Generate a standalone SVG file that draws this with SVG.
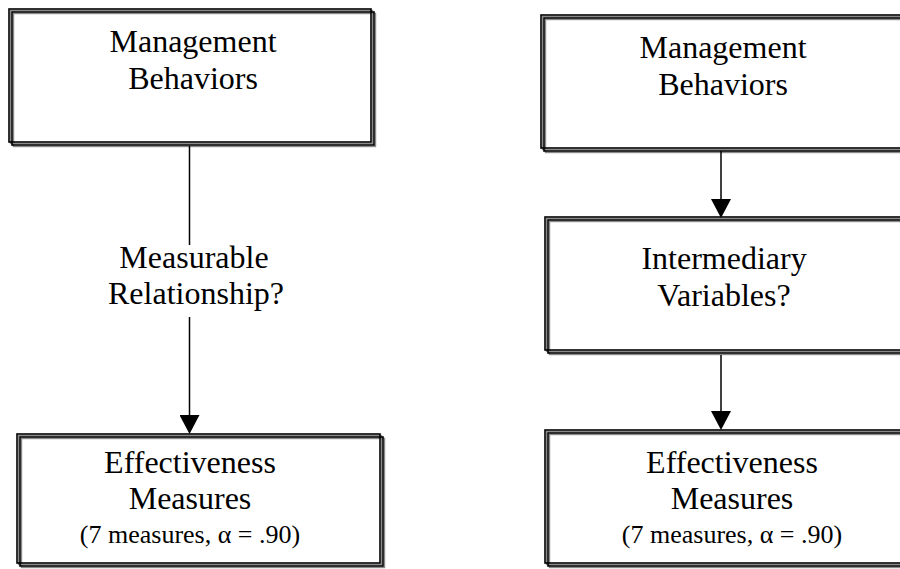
<svg xmlns="http://www.w3.org/2000/svg" width="900" height="569" viewBox="0 0 900 569">
<style>
.k{fill:none;stroke:#000;stroke-width:1.6}
.g{fill:none;stroke:#8a8a8a;stroke-width:1.4}
.t{font-family:"Liberation Serif","Times New Roman",serif;font-size:32px;fill:#000;text-anchor:middle}
.s{font-size:26px}
.c{stroke:#000;stroke-width:1.5;fill:none}
</style>
<defs>
<marker id="ah" markerUnits="userSpaceOnUse" markerWidth="20" markerHeight="20" refX="16" refY="10" orient="auto">
<path d="M0,0 L19,10 L0,20 Z" fill="#000"/>
</marker>
</defs>
<rect width="900" height="569" fill="#fff"/>
<g id="node-mb-left">
<rect class="g" x="10.5" y="10.5" width="362" height="133"/>
<rect class="g" x="13.5" y="13.5" width="362" height="133"/>
<rect class="k" x="9" y="9" width="362" height="133"/>
<rect class="k" x="12" y="12" width="362" height="133"/>
<text class="t" x="193" y="52">Management</text>
<text class="t" x="193" y="89">Behaviors</text>
</g>
<g id="node-em-left">
<rect class="g" x="18.5" y="435.5" width="363" height="129"/>
<rect class="g" x="21.5" y="438.5" width="363" height="129"/>
<rect class="k" x="17" y="434" width="363" height="129"/>
<rect class="k" x="20" y="437" width="363" height="129"/>
<text class="t" x="190" y="473">Effectiveness</text>
<text class="t" x="190" y="509">Measures</text>
<text class="t s" x="190" y="543">(7 measures, α = .90)</text>
</g>
<g id="node-mb-right">
<rect class="g" x="542.5" y="16.5" width="400" height="133"/>
<rect class="g" x="545.5" y="19.5" width="400" height="133"/>
<rect class="k" x="541" y="15" width="400" height="133"/>
<rect class="k" x="544" y="18" width="400" height="133"/>
<text class="t" x="723" y="58">Management</text>
<text class="t" x="723" y="95">Behaviors</text>
</g>
<g id="node-iv-right">
<rect class="g" x="546.5" y="218.5" width="400" height="133"/>
<rect class="g" x="549.5" y="221.5" width="400" height="133"/>
<rect class="k" x="545" y="217" width="400" height="133"/>
<rect class="k" x="548" y="220" width="400" height="133"/>
<text class="t" x="724" y="269">Intermediary</text>
<text class="t" x="724" y="306">Variables?</text>
</g>
<g id="node-em-right">
<rect class="g" x="546.5" y="431.5" width="400" height="133"/>
<rect class="g" x="549.5" y="434.5" width="400" height="133"/>
<rect class="k" x="545" y="430" width="400" height="133"/>
<rect class="k" x="548" y="433" width="400" height="133"/>
<text class="t" x="732" y="473">Effectiveness</text>
<text class="t" x="732" y="509">Measures</text>
<text class="t s" x="732" y="543">(7 measures, α = .90)</text>
</g>
<g id="connectors">
<line class="c" x1="189.5" y1="146" x2="189.5" y2="245"/>
<line class="c" x1="189.5" y1="317" x2="189.5" y2="431" marker-end="url(#ah)"/>
<text class="t" x="194" y="268">Measurable</text>
<text class="t" x="196" y="304">Relationship?</text>
<line class="c" x1="721" y1="151" x2="721" y2="215" marker-end="url(#ah)"/>
<line class="c" x1="721" y1="355" x2="721" y2="427" marker-end="url(#ah)"/>
</g>
</svg>
